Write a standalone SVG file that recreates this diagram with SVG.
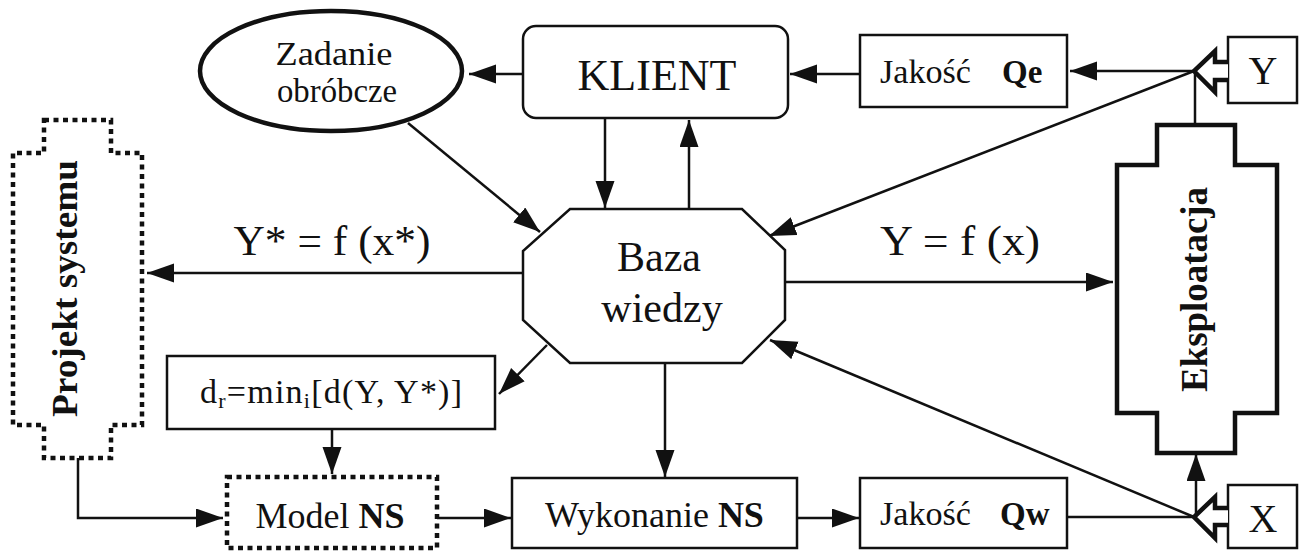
<svg xmlns="http://www.w3.org/2000/svg" width="1299" height="551" viewBox="0 0 1299 551">
  <style>
    .t { font-family: 'Liberation Serif', 'Times New Roman', 'DejaVu Serif', serif; fill: #111; }
    .b { font-weight: bold; }
    .box { fill: #fff; stroke: #111; stroke-width: 2.5; }
    .heavy { fill: #fff; stroke: #111; stroke-width: 4.5; }
    .dotted { fill: #fff; stroke: #111; stroke-width: 4.5; stroke-dasharray: 5 4.5; }
    .ln { fill: none; stroke: #111; stroke-width: 2.5; }
    .arr { marker-end: url(#head); }
  </style>
  <defs>
    <marker id="head" markerUnits="userSpaceOnUse" markerWidth="28" markerHeight="20" refX="27" refY="9.5" orient="auto">
      <path d="M0,0 L27,9.5 L0,19 z" fill="#111"/>
    </marker>
  </defs>

  <rect width="1299" height="551" fill="#fff"/>

  <!-- connectors -->
  <g id="connectors">
    <line class="ln arr" x1="523" y1="74" x2="469" y2="74"/>
    <line class="ln arr" x1="860" y1="74" x2="790" y2="74"/>
    <line class="ln arr" x1="1194" y1="71" x2="1070" y2="71"/>
    <line class="ln" x1="1195" y1="71" x2="1195" y2="125"/>
    <line class="ln arr" x1="1194" y1="71" x2="769" y2="236"/>
    <line class="ln arr" x1="605" y1="118" x2="605" y2="208"/>
    <line class="ln arr" x1="689" y1="209" x2="689" y2="120"/>
    <line class="ln arr" x1="408" y1="123" x2="540" y2="232"/>
    <line class="ln arr" x1="523" y1="273" x2="147" y2="273"/>
    <line class="ln arr" x1="785" y1="282" x2="1113" y2="282"/>
    <line class="ln arr" x1="547" y1="345" x2="499" y2="394"/>
    <line class="ln arr" x1="665" y1="363" x2="665" y2="477"/>
    <line class="ln arr" x1="332" y1="429" x2="332" y2="474"/>
    <polyline class="ln arr" points="78,458 78,518 223,518"/>
    <line class="ln arr" x1="437" y1="518" x2="511" y2="518"/>
    <line class="ln arr" x1="797" y1="518" x2="859" y2="518"/>
    <line class="ln" x1="1067" y1="517" x2="1194" y2="517"/>
    <line class="ln arr" x1="1194" y1="517" x2="770" y2="340"/>
    <line class="ln arr" x1="1196" y1="517" x2="1196" y2="454"/>
  </g>

  <g font-family="'Liberation Serif', 'Times New Roman', 'DejaVu Serif', serif">
  <!-- Zadanie obróbcze -->
  <g id="zadanie">
    <ellipse class="heavy" cx="331" cy="71" rx="131" ry="60"/>
    <text class="t" x="334" y="65" font-size="34" text-anchor="middle" textLength="117" lengthAdjust="spacingAndGlyphs">Zadanie</text>
    <text class="t" x="337" y="102" font-size="34" text-anchor="middle" textLength="120" lengthAdjust="spacingAndGlyphs">obróbcze</text>
  </g>

  <!-- KLIENT -->
  <g id="klient">
    <rect class="box" x="523" y="26" width="265" height="92" rx="13"/>
    <text class="t" x="657" y="90" font-size="44" text-anchor="middle">KLIENT</text>
  </g>

  <!-- Jakość Qe -->
  <g id="jakosc-qe">
    <rect class="box" x="860" y="35" width="207" height="72"/>
    <text class="t" x="880" y="83" font-size="33"><tspan textLength="91" lengthAdjust="spacingAndGlyphs">Jakość</tspan><tspan class="b" x="1002">Qe</tspan></text>
  </g>

  <!-- Y input -->
  <g id="wejscie-y">
    <rect class="box" x="1228" y="37" width="69" height="66" stroke-width="5"/>
    <polyline class="heavy" points="1228,62 1215,62 1215,51 1194,71 1215,92 1215,80 1228,80" stroke-width="4"/>
    <text class="t" x="1263" y="84" font-size="40" text-anchor="middle">Y</text>
  </g>

  <!-- Projekt systemu -->
  <g id="projekt">
    <polygon class="dotted" points="44,120 111,120 111,153 142,153 142,425 111,425 111,458 44,458 44,425 13,425 13,153 44,153"/>
    <text class="t b" transform="translate(77,288.5) rotate(-90)" x="0" y="0" font-size="36" text-anchor="middle" textLength="257" lengthAdjust="spacingAndGlyphs">Projekt systemu</text>
  </g>

  <!-- Y* = f(x*) -->
  <text class="t" x="332" y="255" font-size="42" text-anchor="middle" textLength="197" lengthAdjust="spacingAndGlyphs">Y* = f (x*)</text>
  <!-- Y = f(x) -->
  <text class="t" x="960" y="255" font-size="42" text-anchor="middle" textLength="160" lengthAdjust="spacingAndGlyphs">Y = f (x)</text>

  <!-- Baza wiedzy -->
  <g id="baza">
    <polygon class="box" points="570,209 742,209 785,250 785,320 742,363 570,363 523,320 523,251"/>
    <text class="t" x="659" y="271" font-size="42" text-anchor="middle">Baza</text>
    <text class="t" x="662" y="322" font-size="42" text-anchor="middle">wiedzy</text>
  </g>

  <!-- Eksploatacja -->
  <g id="eksploatacja">
    <polygon class="heavy" points="1157,125 1235,125 1235,165 1277,165 1277,413 1235,413 1235,453 1157,453 1157,413 1117,413 1117,165 1157,165" stroke-width="4"/>
    <text class="t b" transform="translate(1207,289.5) rotate(-90)" x="0" y="0" font-size="38" text-anchor="middle" textLength="205" lengthAdjust="spacingAndGlyphs">Eksploatacja</text>
  </g>

  <!-- d_r = min_i[...] -->
  <g id="odleglosc">
    <rect class="box" x="167" y="356" width="328" height="73"/>
    <text class="t" x="331" y="403" font-size="34" text-anchor="middle" textLength="262" lengthAdjust="spacing">d<tspan font-size="22" dy="5">r</tspan><tspan dy="-5">=min</tspan><tspan font-size="22" dy="5">i</tspan><tspan dy="-5">[d(Y, Y*)]</tspan></text>
  </g>

  <!-- Model NS -->
  <g id="model-ns">
    <rect class="dotted" x="227" y="477" width="210" height="71"/>
    <text class="t" x="330" y="528" font-size="36" text-anchor="middle">Model <tspan class="b">NS</tspan></text>
  </g>

  <!-- Wykonanie NS -->
  <g id="wykonanie-ns">
    <rect class="box" x="512" y="478" width="285" height="70"/>
    <text class="t" x="654.5" y="527" font-size="36" text-anchor="middle">Wykonanie <tspan class="b">NS</tspan></text>
  </g>

  <!-- Jakość Qw -->
  <g id="jakosc-qw">
    <rect class="box" x="860" y="478" width="207" height="70"/>
    <text class="t" x="880" y="525" font-size="33"><tspan textLength="91" lengthAdjust="spacingAndGlyphs">Jakość</tspan><tspan class="b" x="1000">Qw</tspan></text>
  </g>

  <!-- X input -->
  <g id="wejscie-x">
    <rect class="box" x="1228" y="485" width="69" height="63" stroke-width="5"/>
    <polyline class="heavy" points="1228,508 1215,508 1215,497 1194,517 1215,538 1215,525 1228,525" stroke-width="4"/>
    <text class="t" x="1263" y="532" font-size="40" text-anchor="middle">X</text>
  </g>
  </g>
</svg>
